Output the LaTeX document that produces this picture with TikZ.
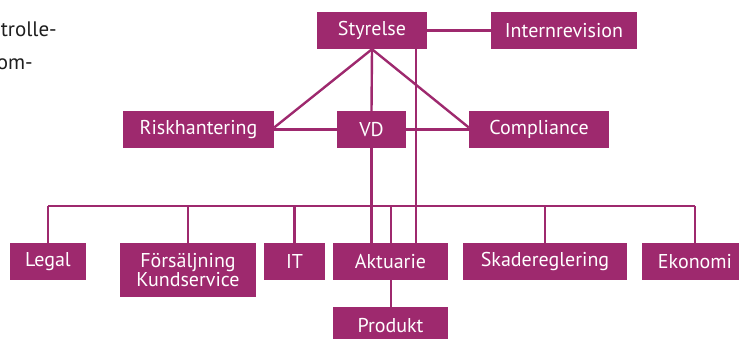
\documentclass[tikz,border=0pt]{standalone}
\usepackage{fontspec}
\setmainfont{PT Sans}
\definecolor{mag}{RGB}{158,41,110}
\definecolor{txt}{RGB}{30,30,30}
\begin{document}
\begin{tikzpicture}[x=1pt,y=-1pt,
  box/.style={fill=mag,text=white,inner sep=0pt,align=center,font=\fontsize{20}{20}\selectfont,minimum height=37pt},
  conn/.style={draw=mag,line width=2.4pt},
  body/.style={text=txt,inner sep=0pt,font=\fontsize{21}{24}\selectfont}]
\useasboundingbox (0,0) rectangle (739,338);
\clip (0,0) rectangle (739,338);
% top-left text fragments
\node[body,anchor=base east] (t1) at (57,36) {trolle-};
\node[body,anchor=base east] (t2) at (33,69) {om-};
% coordinates
\coordinate (bus) at (0,206);
\coordinate (xr) at (416,0);
\coordinate (xa) at (391,0);
% boxes
\node[box,minimum width=110pt] (sty) at (372,30.5) {Styrelse};
\node[box,minimum width=146pt] (irv) at (564,30.5) {Internrevision};
\node[box,minimum width=151pt] (risk) at (198.5,129.5) {Riskhantering};
\node[box,minimum width=69pt] (vd) at (371.5,129.5) {VD};
\node[box,minimum width=140pt] (comp) at (539,129.5) {Compliance};
\node[box,minimum width=76pt] (legal) at (48,261.5) {Legal};
\node[box,minimum width=136pt,minimum height=54pt] (fors) at (188,270) {Försäljning\\[-1pt]Kundservice};
\node[box,minimum width=61pt] (it) at (294.5,261.5) {IT};
\node[box,minimum width=115pt] (akt) at (390.5,261.5) {Aktuarie};
\node[box,minimum width=115pt] (prod) at (390.5,325.5) {Produkt};
\node[box,minimum width=164pt] (skad) at (545,261.5) {Skadereglering};
\node[box,minimum width=106pt] (eko) at (695,261.5) {Ekonomi};
% connectors
\draw[conn] (sty) -- (irv);
\draw[conn] (sty.south) -- ([yshift=2pt]risk.east);
\draw[conn] (sty.south) -- ([yshift=2pt]comp.west);
\draw[conn] (sty.south) -- (vd.north);
\draw[conn] (risk.east) -- (vd.west);
\draw[conn] (vd.east) -- (comp.west);
\draw[conn] (sty.south -| xr) -- (akt.north -| xr);
\draw[conn] (vd.south) -- (vd.south |- akt.north);
\draw[conn] (legal.north |- bus) -- (eko.north |- bus);
\draw[conn] (legal.north |- bus) -- (legal.north);
\draw[conn] (fors.north |- bus) -- (fors.north);
\draw[conn] (it.north |- bus) -- (it.north);
\draw[conn] (xa |- bus) -- (akt.north -| xa);
\draw[conn] (skad.north |- bus) -- (skad.north);
\draw[conn] (eko.north |- bus) -- (eko.north);
\draw[conn] (akt.south -| xa) -- (prod.north -| xa);
\end{tikzpicture}
\end{document}
